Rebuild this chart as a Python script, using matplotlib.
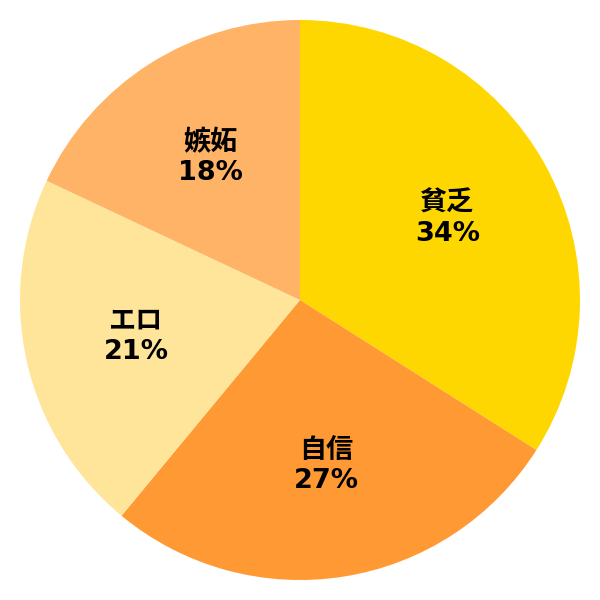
import matplotlib.pyplot as plt

labels = ["貧乏", "自信", "エロ", "嫉妬"]
shares = [34, 27, 21, 18]
colors = ["#FFD700", "#FF9933", "#FFE599", "#FFB366"]

plt.rcParams['font.family'] = ['DejaVu Sans', 'Noto Sans CJK JP']

fig = plt.figure(figsize=(6, 6), dpi=100)
ax = fig.add_axes([0, 0, 1, 1])

wedges, texts = ax.pie(shares, colors=colors, startangle=90, counterclock=False,
                       labels=[f"{n}\n{v}%" for n, v in zip(labels, shares)],
                       labeldistance=0.6,
                       wedgeprops={"linewidth": 0},
                       textprops={"fontsize": 19.5, "fontweight": "bold",
                                  "ha": "center", "va": "center",
                                  "linespacing": 1.2})
for t in texts:
    t.set_horizontalalignment("center")

lim = 300 / 280
ax.set_xlim(-lim, lim)
ax.set_ylim(-lim, lim)
ax.set_aspect("equal")
ax.axis("off")

fig.savefig("out.png", dpi=100)
